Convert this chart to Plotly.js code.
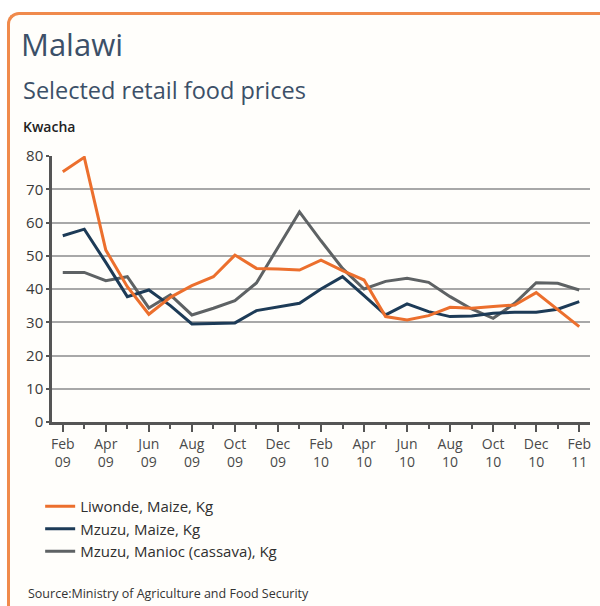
<!DOCTYPE html>
<html>
<head>
<meta charset="utf-8">
<script src="https://cdn.plot.ly/plotly-3.0.1.min.js"></script>
<style>
  html, body { margin: 0; padding: 0; background: #ffffff; }
  #wrap { position: relative; width: 600px; height: 606px; overflow: hidden; }
  #card { position: absolute; left: 7px; top: 12px; width: 600px; height: 600px;
          border-left: 3px solid #F08A4C; border-top: 3px solid #F08A4C;
          border-top-left-radius: 12px; background: #FFFEFB; }
  #chart { position: absolute; left: 0; top: 0; width: 600px; height: 606px; }
</style>
</head>
<body>
<div id="wrap">
  <div id="card"></div>
  <div id="chart"></div>
</div>
<script>
// Monthly observations, Feb 2009 - Feb 2011
const months = ['Feb 09','Mar 09','Apr 09','May 09','Jun 09','Jul 09','Aug 09','Sep 09','Oct 09','Nov 09','Dec 09','Jan 10',
                'Feb 10','Mar 10','Apr 10','May 10','Jun 10','Jul 10','Aug 10','Sep 10','Oct 10','Nov 10','Dec 10','Jan 11','Feb 11'];

const liwondeMaize = [75.3, 79.6, 51.7, 40.7, 32.4, 37.5, 41.0, 43.7, 50.2, 46.2, 46.0, 45.7,
                      48.7, 45.5, 42.7, 31.7, 30.7, 32.0, 34.5, 34.2, 34.7, 35.2, 38.9, 33.8, 28.7];
const mzuzuMaize   = [56.0, 58.0, 48.0, 37.7, 39.7, 35.0, 29.5, 29.7, 29.8, 33.5, 34.5, 35.7,
                      40.0, 43.7, 38.0, 32.2, 35.5, 33.2, 31.7, 31.9, 32.7, 33.0, 33.0, 33.9, 36.2];
const mzuzuManioc  = [45.0, 45.0, 42.5, 43.7, 34.3, 38.2, 32.2, 34.2, 36.5, 41.8, 52.5, 63.2,
                      54.5, 46.2, 40.0, 42.3, 43.2, 42.0, 37.7, 34.0, 31.2, 35.7, 41.9, 41.7, 39.7];

const seriesNames = ['Liwonde, Maize, Kg', 'Mzuzu, Maize, Kg', 'Mzuzu, Manioc (cassava), Kg'];
const tickLabels = ['Feb<br>09','Apr<br>09','Jun<br>09','Aug<br>09','Oct<br>09','Dec<br>09',
                    'Feb<br>10','Apr<br>10','Jun<br>10','Aug<br>10','Oct<br>10','Dec<br>10','Feb<br>11'];
const yTicks = [0, 10, 20, 30, 40, 50, 60, 70, 80];

const xIdx = months.map((m, i) => i);
const tickVals = tickLabels.map((t, i) => i * 2);

const FONT = '"Open Sans", "Noto Sans", sans-serif';
const colors = ['#EC6F2D', '#1D3B57', '#5E6264'];
const values = [liwondeMaize, mzuzuMaize, mzuzuManioc];

const traces = values.map((v, k) => ({
  x: xIdx, y: v, name: seriesNames[k], type: 'scatter', mode: 'lines',
  line: { color: colors[k], width: 3 }, text: months,
  hovertemplate: '%{text}: %{y}<extra>' + seriesNames[k] + '</extra>'
}));
// draw order: cassava at back
const data = [traces[2], traces[1], traces[0]];
data[0].legendrank = 3; data[1].legendrank = 2; data[2].legendrank = 1;

const layout = {
  width: 600, height: 606,
  paper_bgcolor: 'rgba(0,0,0,0)', plot_bgcolor: 'rgba(0,0,0,0)',
  margin: { l: 52, r: 10, t: 156, b: 184 },
  font: { family: FONT, color: '#3a3a3a' },
  title: { text: 'Malawi', x: 21 / 600, xanchor: 'left', xref: 'container',
           y: 1 - 34 / 606, yanchor: 'top', yref: 'container',
           font: { family: FONT, size: 31, color: '#3C5068' } },
  showlegend: true,
  legend: { x: -0.022, xanchor: 'left', y: -0.256, yanchor: 'top',
            font: { family: FONT, size: 15, color: '#2f2f2f' },
            bgcolor: 'rgba(0,0,0,0)', tracegroupgap: 0, itemwidth: 30,
            traceorder: 'normal' },
  xaxis: {
    range: [-0.5, 24.5], tickmode: 'array', tickvals: tickVals, ticktext: tickLabels,
    showgrid: false, zeroline: false, showline: true, linecolor: '#555555', linewidth: 2.5,
    ticks: 'outside', ticklen: 7, tickwidth: 2, tickcolor: '#555555',
    minor: { dtick: 1, tick0: 0, ticks: 'outside', ticklen: 4, tickwidth: 1.5, tickcolor: '#555555', showgrid: false },
    tickfont: { family: FONT, size: 14, color: '#4a4a4a' }, fixedrange: true
  },
  yaxis: {
    range: [0, 80], tickmode: 'array', tickvals: yTicks,
    showgrid: true, gridcolor: '#A8A8A8', gridwidth: 2, zeroline: false,
    showline: true, linecolor: '#555555', linewidth: 2.5,
    ticks: 'outside', ticklen: 3, tickwidth: 1.5, tickcolor: '#555555',
    tickfont: { family: FONT, size: 15, color: '#3a3a3a' }, fixedrange: true
  },
  annotations: [
    { text: 'Selected retail food prices', xref: 'paper', yref: 'paper', x: (21 - 52) / 538, y: (422 - 72) / 266,
      xanchor: 'left', yanchor: 'top', showarrow: false, font: { family: FONT, size: 23.5, color: '#3C5068' } },
    { text: 'Kwacha', xref: 'paper', yref: 'paper', x: (21 - 52) / 538, y: (422 - 115) / 266,
      xanchor: 'left', yanchor: 'top', showarrow: false, font: { family: FONT, size: 14, color: '#222222', weight: 600 } },
    { text: 'Source:Ministry of Agriculture and Food Security', xref: 'paper', yref: 'paper', x: (26 - 52) / 538, y: (422 - 583) / 266,
      xanchor: 'left', yanchor: 'top', showarrow: false, font: { family: FONT, size: 12.5, color: '#333333' } }
  ]
};

Plotly.newPlot('chart', data, layout, { displayModeBar: false, staticPlot: false });
</script>
</body>
</html>
